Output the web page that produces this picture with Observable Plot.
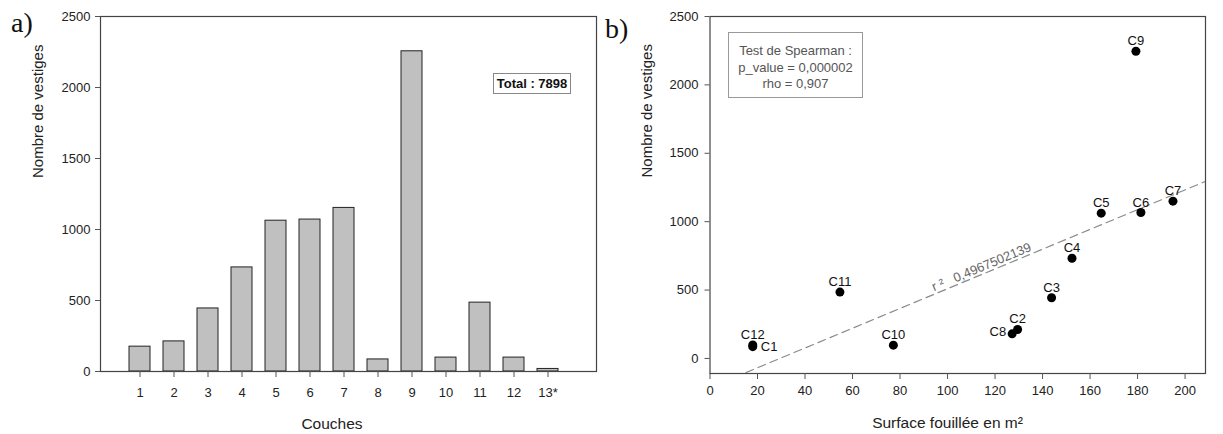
<!DOCTYPE html>
<html>
<head>
<meta charset="utf-8">
<script src="https://cdn.jsdelivr.net/npm/d3@7"></script>
<script src="https://cdn.jsdelivr.net/npm/@observablehq/plot@0.6"></script>
<style>
  body { margin: 0; background: #fff; }
  #wrap { position: relative; width: 1223px; height: 434px; overflow: hidden; font-family: "Liberation Sans", Arial, sans-serif; }
  #wrap svg { position: absolute; top: 0; }
  .panel { position: absolute; font-family: "Liberation Serif", "Times New Roman", serif; font-size: 28px; line-height: 28px; color: #111; }
  .box { position: absolute; box-sizing: border-box; text-align: center; background: #fff; }
</style>
</head>
<body>
<div id="wrap"></div>
<script>
// ---------- Data ----------
const couches = ["1","2","3","4","5","6","7","8","9","10","11","12","13*"];
const vestigesParCouche = [175, 212, 444, 733, 1062, 1070, 1152, 85, 2255, 98, 485, 98, 18];
const totalTexte = "Total : 7898";

const nomsCouches = ["C1","C2","C3","C4","C5","C6","C7","C8","C9","C10","C11","C12"];
const surfaceFouillee = [18, 129.5, 143.8, 152.4, 164.7, 181.4, 194.9, 127.2, 179.3, 77.2, 54.7, 18];
const nombreVestiges = [86, 212, 444, 733, 1062, 1067, 1150, 180, 2246, 97, 485, 98];

const yTicks = [0, 500, 1000, 1500, 2000, 2500];
const xTicksB = [0, 20, 40, 60, 80, 100, 120, 140, 160, 180, 200];
const r2Texte = "r\u00a0²\u00a0\u00a0 0,4967502139";
const spearmanLignes = ["Test de Spearman :", "p_value = 0,000002", "rho = 0,907"];

// ---------- Common ----------
const FONT = "Liberation Sans, Arial, sans-serif";
const TICK_FS = 13;
const wrap = document.getElementById("wrap");
const fmtInt = d3.format("d");

// ---------- Panel a ----------
const barData = couches.map((c, i) => ({couche: c, n: vestigesParCouche[i]}));
const A = {width: 610, height: 434, mL: 100, mR: 14, mT: 16, mB: 63};
const plotA = Plot.plot({
  width: A.width, height: A.height,
  marginLeft: A.mL, marginRight: A.mR, marginTop: A.mT, marginBottom: A.mB,
  style: {fontFamily: FONT, color: "#222", background: "transparent", overflow: "visible"},
  x: {type: "band", domain: couches, paddingInner: 0.38, paddingOuter: 0.804, align: 0.44, label: null},
  y: {domain: [0, 2500], label: null},
  marks: [
    Plot.barY(barData, {x: "couche", y: "n", fill: "#c0c0c0", stroke: "#222", strokeWidth: 1}),
    Plot.frame({stroke: "#444", strokeWidth: 1.2}),
    Plot.axisX({tickSize: 6, tickPadding: 10.5, fontSize: TICK_FS, stroke: "#555", fill: "#222", label: null}),
    Plot.axisY({ticks: yTicks, tickFormat: fmtInt, tickSize: 5, tickPadding: 5, fontSize: TICK_FS, stroke: "#555", fill: "#222", label: null}),
    Plot.text(["Couches"], {frameAnchor: "bottom", dx: -16.5, dy: 57, lineAnchor: "bottom", fontSize: 15.5, fill: "#222"}),
    Plot.text(["Nombre de vestiges"], {frameAnchor: "left", rotate: -90, dx: -62, dy: -16, lineAnchor: "middle", fontSize: 15, fill: "#222"})
  ]
});
plotA.style.left = "0px";
wrap.appendChild(plotA);

// ---------- Panel b ----------
const B = {width: 613, height: 434, mL: 99.5, mR: 18, mT: 16, mB: 61};
const xDomB = [0, 208.6];
const yDomB = [-110, 2500];
const pts = nomsCouches.map((n, i) => ({nom: n, s: surfaceFouillee[i], v: nombreVestiges[i]}));

// least-squares line computed from the data
const mx = d3.mean(surfaceFouillee), my = d3.mean(nombreVestiges);
const slope = d3.sum(surfaceFouillee, (x, i) => (x - mx) * (nombreVestiges[i] - my)) /
              d3.sum(surfaceFouillee, x => (x - mx) ** 2);
const intercept = my - slope * mx;
const regLine = xDomB.map(x => ({s: x, v: intercept + slope * x}));

const pxPerX = (B.width - B.mL - B.mR) / (xDomB[1] - xDomB[0]);
const pxPerY = (B.height - B.mT - B.mB) / (yDomB[1] - yDomB[0]);
const angle = -Math.atan(slope * pxPerY / pxPerX) * 180 / Math.PI;
const r2x = 115;
const r2Data = [{s: r2x, v: intercept + slope * r2x, t: r2Texte}];

const topLabels = pts.filter(d => d.nom !== "C1" && d.nom !== "C8");
const rightLabels = pts.filter(d => d.nom === "C1");
const leftLabels = pts.filter(d => d.nom === "C8");

const plotB = Plot.plot({
  width: B.width, height: B.height,
  marginLeft: B.mL, marginRight: B.mR, marginTop: B.mT, marginBottom: B.mB,
  style: {fontFamily: FONT, color: "#222", background: "transparent", overflow: "visible"},
  x: {domain: xDomB, label: null},
  y: {domain: yDomB, label: null},
  marks: [
    Plot.line(regLine, {x: "s", y: "v", stroke: "#8a8a8a", strokeWidth: 1.2, strokeDasharray: "8,5", clip: true}),
    Plot.text(r2Data, {x: "s", y: "v", text: "t", rotate: angle, lineAnchor: "bottom", textAnchor: "middle", dy: -3, fontSize: 13, fill: "#666"}),
    Plot.dot(pts, {x: "s", y: "v", r: 4.5, fill: "#000", stroke: "none"}),
    Plot.text(topLabels, {x: "s", y: "v", text: "nom", lineAnchor: "bottom", dy: -6, fontSize: 13, fill: "#111"}),
    Plot.text(rightLabels, {x: "s", y: "v", text: "nom", textAnchor: "start", lineAnchor: "middle", dx: 8, fontSize: 13, fill: "#111"}),
    Plot.text(leftLabels, {x: "s", y: "v", text: "nom", textAnchor: "end", lineAnchor: "middle", dx: -6, dy: -2, fontSize: 13, fill: "#111"}),
    Plot.frame({stroke: "#444", strokeWidth: 1.2}),
    Plot.axisX({ticks: xTicksB, tickFormat: fmtInt, tickSize: 6, tickPadding: 6, fontSize: TICK_FS, stroke: "#555", fill: "#222", label: null}),
    Plot.axisY({ticks: yTicks, tickFormat: fmtInt, tickSize: 5, tickPadding: 6.5, fontSize: TICK_FS, stroke: "#555", fill: "#222", label: null}),
    Plot.text(["Surface fouillée en m²"], {x: d3.mean([xTicksB[0], xTicksB[xTicksB.length - 1]]), frameAnchor: "bottom", dy: 54, lineAnchor: "bottom", fontSize: 15.5, fill: "#222"}),
    Plot.text(["Nombre de vestiges"], {frameAnchor: "left", rotate: -90, dx: -62.5, dy: -17.5, lineAnchor: "middle", fontSize: 15, fill: "#222"})
  ]
});
plotB.style.left = "610px";
wrap.appendChild(plotB);

// ---------- Annotations ----------
function addDiv(cls, css, html) {
  const d = document.createElement("div");
  d.className = cls;
  Object.assign(d.style, css);
  d.innerHTML = html;
  wrap.appendChild(d);
  return d;
}
addDiv("panel", {left: "11px", top: "9px"}, "a)");
addDiv("panel", {left: "605px", top: "15px"}, "b)");

addDiv("box", {left: "493px", top: "73px", width: "78px", height: "21px",
  border: "1px solid #888", font: "bold 13px " + FONT, lineHeight: "19px", color: "#111"}, totalTexte);

addDiv("box", {left: "728px", top: "32px", width: "135px", height: "66px",
  border: "1px solid #999", font: "13px " + FONT, lineHeight: "16.5px", color: "#555", paddingTop: "10px"},
  spearmanLignes.join("<br>"));
</script>
</body>
</html>
